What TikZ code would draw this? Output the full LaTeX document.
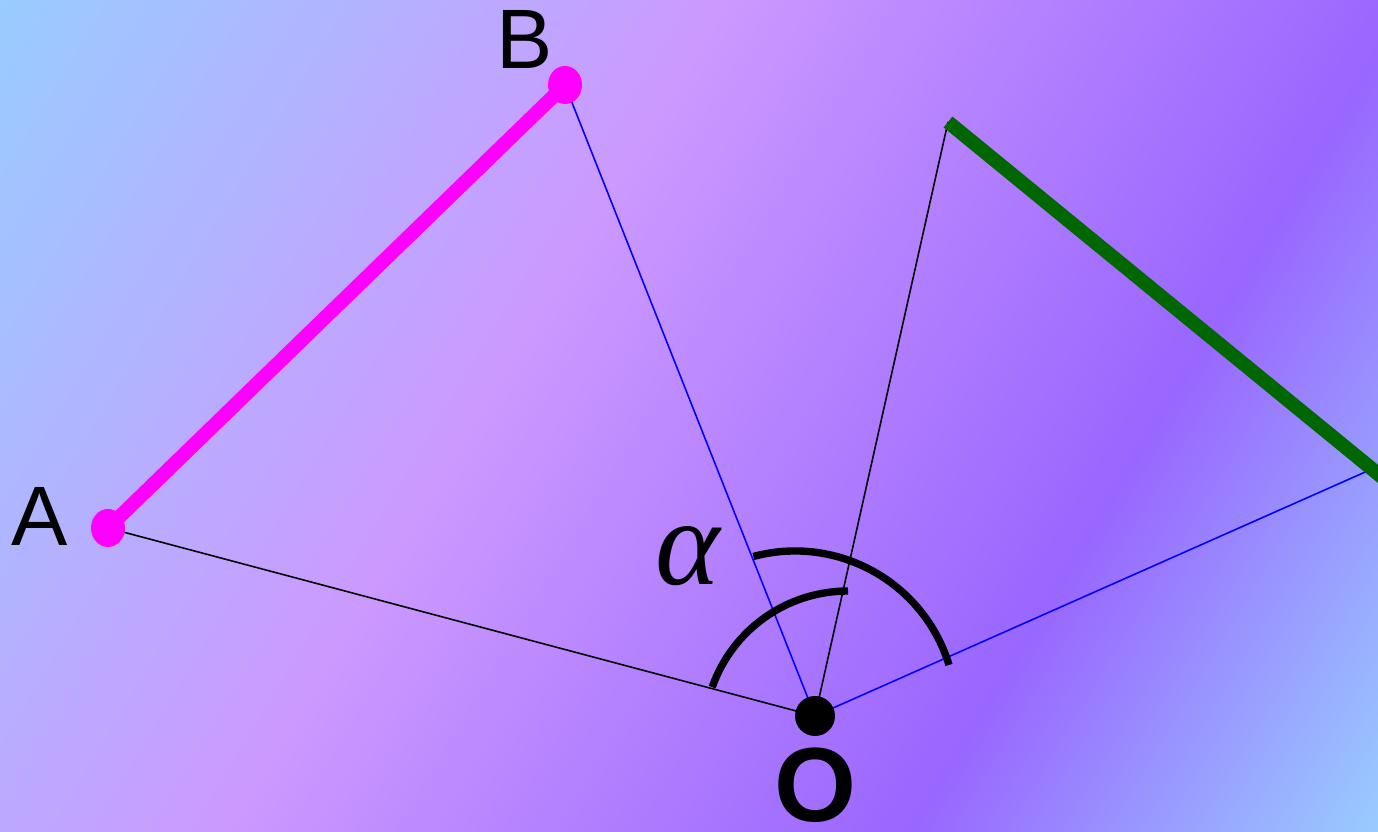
\documentclass[tikz,border=0pt]{standalone}
\usepackage{fontspec}
\usepackage{tikz}
\usetikzlibrary{positioning, shapes.geometric, calc}
\newfontfamily\labelfont{Liberation Sans}
\newfontfamily\greekfont{Liberation Serif}
\definecolor{bgblue}{RGB}{153,204,255}
\definecolor{bglilac}{RGB}{204,153,255}
\definecolor{bgpurple}{RGB}{153,102,255}
\definecolor{segmagenta}{RGB}{255,0,255}
\definecolor{seggreen}{RGB}{0,102,0}
\pgfdeclarehorizontalshading{bgshade}{100bp}{color(0bp)=(bgblue); color(25bp)=(bgblue); color(44.3bp)=(bglilac); color(62.5bp)=(bgpurple); color(75bp)=(bgblue); color(100bp)=(bgblue)}
\pgfdeclarelayer{bg}
\pgfdeclarelayer{lines}
\pgfsetlayers{bg,lines,main}

\begin{document}
\begin{tikzpicture}[
    mdot/.style={ellipse, fill=segmagenta, minimum width=0.34cm, minimum height=0.38cm, inner sep=0pt},
    odot/.style={circle, fill=black, minimum size=0.4cm, inner sep=0pt},
    thinline/.style={line width=0.45pt},
    seg/.style={line width=4pt},
    anglearc/.style={line width=2.1pt},
    lbl/.style={inner sep=0pt, font=\labelfont\fontsize{24}{24}\selectfont}]
  \useasboundingbox (0,0) rectangle (13.78,8.32);

  % background
  \begin{pgfonlayer}{bg}
    \begin{scope}
      \clip (0,0) rectangle (13.78,8.32);
      \begin{scope}[transform canvas={rotate around={-31:(0,8.32)}}]
        \shade[shading=bgshade] (0,0.82) rectangle (16.10,15.82);
      \end{scope}
    \end{scope}
  \end{pgfonlayer}

  % points
  \node[mdot] (A) at (1.08,3.04) {};
  \node[mdot] (B) at (5.65,7.47) {};
  \node[odot] (O) at (8.15,1.16) {};
  \coordinate (C) at (9.48,7.10);
  \coordinate (D) at (13.72,3.63);

  \node[lbl] (Alab) at (0.40,3.16) {A};
  \node[lbl] (Blab) at (5.25,7.92) {B};
  \node[lbl, font=\labelfont\bfseries\fontsize{30}{30}\selectfont, below=0.10cm of O] (Olab) {O};
  \node[inner sep=0pt, font=\greekfont\itshape\fontsize{35}{35}\selectfont] (alpha) at (6.88,2.76) {α};

  \begin{pgfonlayer}{lines}
    \draw[thinline] (A.center) -- (O.center);
    \draw[thinline, blue] (B.center) -- (O.center);
    \draw[thinline] (O.center) -- (C);
    \draw[thinline, blue] (O.center) -- (D);
    \draw[seg, segmagenta] (A.center) -- (B.center);
    \draw[seg, seggreen, shorten >=-0.3cm] (C) -- (D);
    % angle marks
    \draw[anglearc] ($(O)+(-0.20,0.04)$) ++(105:1.61) arc[start angle=105, end angle=17, radius=1.61];
    \draw[anglearc] ($(O)+(0.33,-0.19)$) ++(160.6:1.44) arc[start angle=160.6, end angle=90, radius=1.44];
  \end{pgfonlayer}
\end{tikzpicture}
\end{document}
